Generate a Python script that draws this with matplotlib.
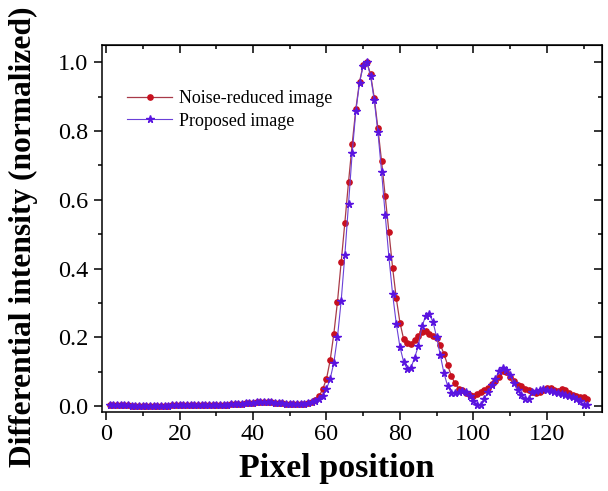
import matplotlib
matplotlib.use("Agg")
import matplotlib.pyplot as plt
from matplotlib.ticker import MultipleLocator
import numpy as np

plt.rcParams['font.family'] = ['Liberation Serif', 'DejaVu Serif']

pixel = np.arange(1, 132)

noise_reduced = [
    0.002, 0.002, 0.002, 0.002, 0.002, 0.002, 0.001, 0.001, 0.001, 0.001,
    0.001, 0.001, 0.001, 0.001, 0.001, 0.001, 0.001, 0.002, 0.002, 0.002,
    0.002, 0.002, 0.002, 0.002, 0.002, 0.002, 0.003, 0.003, 0.003, 0.003,
    0.003, 0.004, 0.004, 0.005, 0.005, 0.006, 0.007, 0.008, 0.009, 0.010,
    0.011, 0.012, 0.012, 0.012, 0.011, 0.010, 0.009, 0.008, 0.007, 0.006,
    0.005, 0.005, 0.006, 0.007, 0.009, 0.013, 0.019,
    0.029, 0.050, 0.079, 0.133, 0.210, 0.304, 0.418, 0.533, 0.651, 0.762,
    0.865, 0.943, 0.993, 1.000, 0.965, 0.897, 0.808, 0.712, 0.610, 0.507,
    0.403, 0.314,
    0.243, 0.195, 0.184, 0.182, 0.192, 0.203, 0.216, 0.219, 0.211, 0.203,
    0.197, 0.179, 0.151, 0.119, 0.087, 0.066, 0.051, 0.046, 0.039, 0.033,
    0.030, 0.036, 0.041, 0.047, 0.054, 0.064, 0.074, 0.085, 0.101, 0.099,
    0.086, 0.072, 0.062, 0.058, 0.051, 0.046, 0.040, 0.037, 0.042, 0.047,
    0.053, 0.054, 0.048, 0.044, 0.049, 0.047, 0.039, 0.033, 0.029, 0.027,
    0.027, 0.022,
]

proposed = [
    0.002, 0.002, 0.002, 0.002, 0.002, 0.002, 0.001, 0.001, 0.001, 0.001,
    0.001, 0.001, 0.001, 0.001, 0.001, 0.001, 0.001, 0.002, 0.002, 0.002,
    0.002, 0.002, 0.002, 0.002, 0.002, 0.002, 0.003, 0.003, 0.003, 0.003,
    0.003, 0.004, 0.004, 0.005, 0.005, 0.006, 0.007, 0.008, 0.009, 0.010,
    0.011, 0.012, 0.012, 0.012, 0.011, 0.010, 0.009, 0.008, 0.007, 0.006,
    0.005, 0.005, 0.006, 0.007,
    0.008, 0.011, 0.015, 0.021, 0.030, 0.050, 0.079, 0.126, 0.201, 0.306,
    0.439, 0.587, 0.736, 0.858, 0.940, 0.990, 1.000, 0.960, 0.890, 0.797,
    0.682, 0.555, 0.433, 0.326, 0.240, 0.172, 0.129, 0.107, 0.112, 0.141,
    0.175, 0.232, 0.262, 0.267, 0.245, 0.200, 0.148, 0.095, 0.058, 0.039,
    0.038, 0.040, 0.043, 0.040, 0.030, 0.015, 0.004, 0.004, 0.022, 0.042,
    0.061, 0.080, 0.103, 0.110, 0.105, 0.090, 0.066, 0.047, 0.032, 0.021,
    0.021, 0.040, 0.044, 0.046, 0.050, 0.048, 0.045, 0.042, 0.038, 0.035,
    0.032, 0.030, 0.026, 0.022, 0.014, 0.004, 0.004,
]

labels = ["Noise-reduced image", "Proposed image"]
xlabel = "Pixel position"
ylabel = "Differential intensity (normalized)"

fig = plt.figure(figsize=(6.08, 4.91), dpi=100)
ax = fig.add_axes([102/608, 1-412/491, 500/608, 367/491])

ax.plot(pixel, noise_reduced, color='#a83a48', lw=0.9, marker='o', ms=3.8,
        mfc='#c8101e', mec='#c8101e', label=labels[0])
ax.plot(pixel, proposed, color='#6a40d8', lw=0.8, marker='*', ms=5.5,
        mfc='#5a14e0', mec='#5a14e0', label=labels[1])

ax.set_xlim(-1.1, 135)
ax.set_ylim(-0.017, 1.05)
ax.xaxis.set_major_locator(MultipleLocator(20))
ax.xaxis.set_minor_locator(MultipleLocator(10))
ax.yaxis.set_major_locator(MultipleLocator(0.2))
ax.yaxis.set_minor_locator(MultipleLocator(0.1))
ax.yaxis.set_major_formatter(matplotlib.ticker.FormatStrFormatter('%.1f'))

for sp in ax.spines.values():
    sp.set_linewidth(1.1)
ax.tick_params(which='major', direction='out', length=6, width=1.1,
               labelsize=17.5)
ax.tick_params(axis='x', which='major', pad=3)
ax.tick_params(axis='y', which='major', pad=4)
ax.tick_params(which='minor', direction='out', length=3, width=1.1)

top = ax.secondary_xaxis('top')
top.xaxis.set_major_locator(MultipleLocator(20))
top.xaxis.set_minor_locator(MultipleLocator(10))
top.tick_params(which='major', direction='in', length=6, width=1.1, labeltop=False)
top.tick_params(which='minor', direction='in', length=3, width=1.1)
right = ax.secondary_yaxis('right')
right.yaxis.set_major_locator(MultipleLocator(0.2))
right.yaxis.set_minor_locator(MultipleLocator(0.1))
right.tick_params(which='major', direction='in', length=6, width=1.1, labelright=False)
right.tick_params(which='minor', direction='in', length=3, width=1.1)

ax.set_xlabel(xlabel, fontsize=24.5, fontweight='bold')
ax.xaxis.set_label_coords((337 - 102) / 500, -(469 - 412) / 367)
ax.xaxis.label.set_va('center')
ax.set_ylabel(ylabel, fontsize=22.7, fontweight='bold')
ax.yaxis.set_label_coords(-(102 - 23) / 500, (412 - 237) / 367)
ax.yaxis.label.set_va('center')

ax.legend(loc='upper left', bbox_to_anchor=(0.036, 0.896), frameon=False,
          fontsize=13, handlelength=2.5, handletextpad=0.35, labelspacing=0.3,
          borderaxespad=0)

fig.savefig("out.png", dpi=100)
